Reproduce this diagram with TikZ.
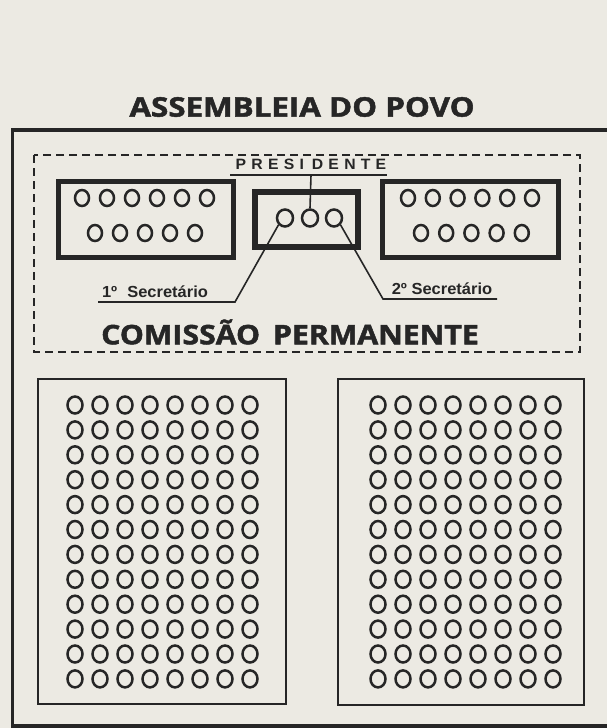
\documentclass[tikz,border=0pt]{standalone}
\usepackage{fontspec}
\setmainfont{Liberation Sans}
\newfontfamily\titlefont[BoldFeatures={FakeBold=1.6}]{Open Sans}
\usetikzlibrary{shapes.geometric}
\definecolor{paper}{HTML}{ECEAE3}
\definecolor{ink}{HTML}{262626}
\tikzset{
  seat/.style={ellipse, draw=ink, line width=2.5pt, minimum width=14pt, minimum height=16pt, inner sep=0pt},
  bigseat/.style={ellipse, draw=ink, line width=2.5pt, minimum width=15pt, minimum height=17pt, inner sep=0pt},
  thickbox/.style={draw=ink, line width=5pt},
  thinbox/.style={draw=ink, line width=2pt},
  lead/.style={draw=ink, line width=1.6pt},
  label/.style={text=ink, inner sep=0pt},
}
\begin{document}
\begin{tikzpicture}[x=1pt,y=-1pt]
\useasboundingbox (0,0) rectangle (607,728);
\clip (0,0) rectangle (607,728);
\fill[paper] (0,0) rectangle (607,728);
% outer frame
\draw[ink, line width=3.5pt] (640,130) -- (12.5,130) -- (12.5,726) -- (640,726);
% title
\node[label, font=\titlefont\bfseries\fontsize{27}{27}\selectfont] (title) at (302,107) {\scalebox{1.16}[1]{ASSEMBLEIA DO POVO}};
% dashed commission box
\draw[ink, line width=1.5pt, dash pattern=on 8pt off 5pt] (34,155) rectangle (580,352);
% upper boxes
\draw[thickbox] (58,181) rectangle (233,257);
\draw[thickbox] (382,181) rectangle (558,257);
\draw[draw=ink, line width=6pt] (255,192) rectangle (358,247);
\foreach \i in {0,...,5} {
  \node[seat] (la\i) at (82+25*\i,198) {};
  \node[seat] (ra\i) at (408+24.8*\i,198) {};
}
\foreach \i in {0,...,4} {
  \node[seat] (lb\i) at (95+25*\i,233) {};
  \node[seat] (rb\i) at (421+25.2*\i,233) {};
}
\node[seat, minimum width=16pt, minimum height=17pt] (pc1) at (285,218) {};
\node[seat, minimum width=16pt, minimum height=17pt] (pc2) at (310,218) {};
\node[seat, minimum width=16pt, minimum height=17pt] (pc3) at (334,218) {};
% labels
\node[label, font=\bfseries\fontsize{15}{15}\selectfont] (pres) at (311,164) {\scalebox{1.05}[1]{P\,\,R\,\,E\,\,S\,\,I\,\,\,D\,\,E\,\,N\,\,T\,\,E}};
\coordinate (presL) at (230,175);
\coordinate (presR) at (387,175);
\draw[lead] (presL) -- (presR);
\draw[lead] (pres.south |- presL) -- (pc2.north);
\node[label, font=\bfseries\fontsize{16}{16}\selectfont, anchor=base] (sec1) at (155,297) {\scalebox{1.03}[1]{1º\,\, Secretário}};
\coordinate (s1L) at (98,302);
\coordinate (s1R) at (235,302);
\draw[lead] (s1L) -- (s1R) -- (pc1.south west);
\node[label, font=\bfseries\fontsize{16}{16}\selectfont, anchor=base] (sec2) at (442,294) {\scalebox{1.03}[1]{2º Secretário}};
\coordinate (s2L) at (383,299);
\coordinate (s2R) at (497,299);
\draw[lead] (pc3.south east) -- (s2L) -- (s2R);
\node[label, font=\titlefont\bfseries\fontsize{27}{27}\selectfont] (com) at (290,332) {\scalebox{1.12}[1]{COMISSÃO\, PERMANENTE}};
% lower boxes
\draw[thinbox] (38,379) rectangle (286,704);
\draw[thinbox] (338,379) rectangle (584,705);
\foreach \r in {0,...,11} {
  \foreach \c in {0,...,7} {
    \node[bigseat] (L\r-\c) at (75+25*\c,405+24.9*\r) {};
    \node[bigseat] (R\r-\c) at (378+25*\c,405+24.9*\r) {};
  }
}
\end{tikzpicture}
\end{document}
